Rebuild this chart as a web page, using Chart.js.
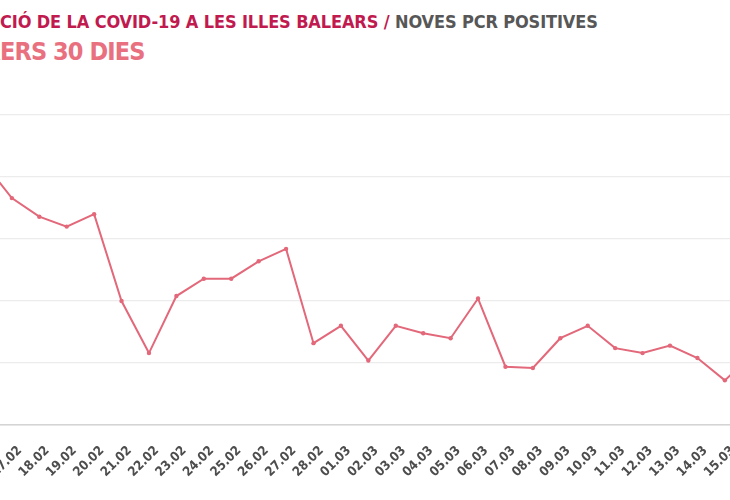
<!DOCTYPE html>
<html lang="ca">

<head>
  <meta charset="UTF-8" />
  <title>Noves PCR positives</title>
  <script src="https://cdn.jsdelivr.net/npm/chart.js"></script>
  <style>
    html, body { margin: 0; padding: 0; background: #fff; }
    body { width: 730px; height: 500px; overflow: hidden; position: relative; }
    .title { position: absolute; left: 0; white-space: nowrap; font-family: 'DejaVu Sans Condensed', sans-serif; font-weight: bold; line-height: 1; }
    .title .pre { position: absolute; right: 100%; top: 0; }
    #t1 { top: 12.9px; font-size: 18px; letter-spacing: -0.13px; color: #c01a4f; }
    #t1 .grey { color: #575757; }
    #t2 { top: 38.8px; font-size: 25px; letter-spacing: -0.9px; color: #e9707f; }
    #chart-box { position: absolute; left: -103.2px; top: 104.5px; width: 876.3px; height: 380px; }
  </style>
</head>

<body>
  <div id="t1" class="title"><span class="pre">EVOLU</span>CIÓ DE LA COVID-19 A LES ILLES BALEARS / <span class="grey">NOVES PCR POSITIVES</span></div>
  <div id="t2" class="title"><span class="pre">DARR</span>ERS 30 DIES</div>

  <div id="chart-box">
    <canvas id="pcrChart"></canvas>
  </div>

  <script>
    // dates (last 30 days)
    const days = [
      '15.02', '16.02', '17.02', '18.02', '19.02', '20.02', '21.02', '22.02', '23.02', '24.02',
      '25.02', '26.02', '27.02', '28.02', '01.03', '02.03', '03.03', '04.03', '05.03', '06.03',
      '07.03', '08.03', '09.03', '10.03', '11.03', '12.03', '13.03', '14.03', '15.03', '16.03'
    ];
    // new positive PCRs per day
    const positives = [
      200, 211, 183, 168, 160, 170, 100, 58, 104, 118,
      118, 132, 142, 66, 80, 52, 80, 74, 70, 102,
      47, 46, 70, 80, 62, 58, 64, 54, 36, 57
    ];
    const yTicks = [0, 50, 100, 150, 200, 250];

    const lineColor = '#e2687a';

    const ctx = document.getElementById('pcrChart').getContext('2d');
    new Chart(ctx, {
      type: 'line',
      data: {
        labels: days,
        datasets: [{
          label: 'Noves PCR positives',
          data: positives,
          borderColor: lineColor,
          backgroundColor: lineColor,
          borderWidth: 2,
          pointRadius: 2.2,
          pointBorderWidth: 0,
          tension: 0,
          fill: false
        }]
      },
      options: {
        responsive: true,
        maintainAspectRatio: false,
        animation: false,
        layout: { padding: { left: 60, right: 20, top: 10, bottom: 0 } },
        plugins: {
          legend: { display: false },
          tooltip: { enabled: false }
        },
        scales: {
          x: {
            offset: false,
            grid: { display: false },
            border: { display: true, color: '#d4d4d4', width: 1.5 },
            afterFit: s => { s.height = 60; },
            ticks: {
              color: '#4d4d4d',
              minRotation: 45,
              maxRotation: 45,
              autoSkip: false,
              padding: 10,
              labelOffset: 8,
              font: { family: "'DejaVu Sans Condensed'", weight: 'bold', size: 13 }
            }
          },
          y: {
            min: yTicks[0],
            max: yTicks[yTicks.length - 1],
            afterBuildTicks: s => { s.ticks = yTicks.map(v => ({ value: v })); },
            afterFit: s => { s.width = 0; },
            border: { display: false },
            grid: { color: '#ececec', lineWidth: 1.2, drawTicks: false },
            ticks: { display: false }
          }
        }
      }
    });
  </script>
</body>

</html>
